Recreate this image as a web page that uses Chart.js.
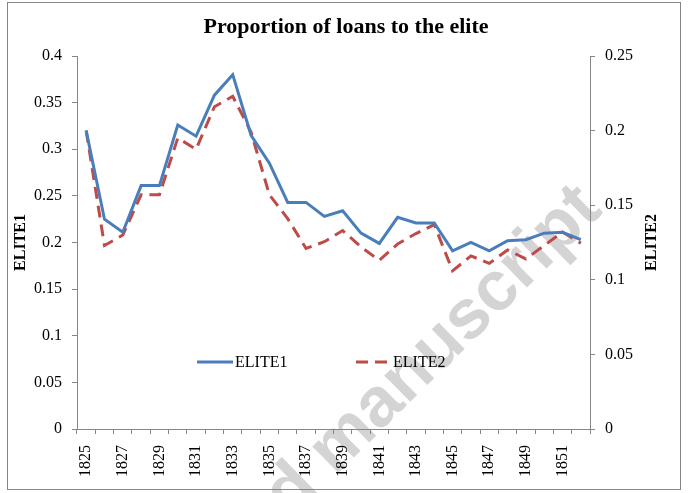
<!DOCTYPE html>
<html>
<head>
<meta charset="utf-8">
<script src="https://cdn.jsdelivr.net/npm/chart.js@4.4.1/dist/chart.umd.min.js"></script>
<style>
  html, body { margin: 0; padding: 0; background: #fff; }
  canvas { display: block; }
</style>
</head>
<body>
<canvas id="chart" width="688" height="493" style="width:688px;height:493px"></canvas>
<script>
// Data
const years = [1825, 1826, 1827, 1828, 1829, 1830, 1831, 1832, 1833, 1834,
               1835, 1836, 1837, 1838, 1839, 1840, 1841, 1842, 1843, 1844,
               1845, 1846, 1847, 1848, 1849, 1850, 1851, 1852];
const elite1 = [0.320, 0.225, 0.211, 0.261, 0.261, 0.326, 0.314, 0.358, 0.380, 0.315,
                0.285, 0.243, 0.243, 0.228, 0.234, 0.210, 0.199, 0.227, 0.221, 0.221,
                0.191, 0.200, 0.191, 0.202, 0.203, 0.210, 0.211, 0.203];
const elite2 = [0.200, 0.123, 0.130, 0.157, 0.157, 0.195, 0.1875, 0.216, 0.223, 0.199,
                0.157, 0.141, 0.121, 0.1255, 0.133, 0.122, 0.113, 0.124, 0.131, 0.137,
                0.106, 0.116, 0.111, 0.120, 0.114, 0.123, 0.132, 0.1245];
const leftTicks = [0, 0.05, 0.1, 0.15, 0.2, 0.25, 0.3, 0.35, 0.4];
const rightTicks = [0, 0.05, 0.1, 0.15, 0.2, 0.25];

const BLUE = '#4a7ebb';
const RED = '#be4b48';
const AXIS = '#868686';
const SERIF = '"Liberation Serif", "Times New Roman", serif';

// Draws frame, title, axis titles, legend and watermark
const decorations = {
    id: 'decorations',
    beforeDraw(chart) {
        const ctx = chart.ctx;
        ctx.save();
        ctx.fillStyle = '#fff';
        ctx.fillRect(0, 0, chart.width, chart.height);

        // watermark
        ctx.translate(604, 212);
        ctx.rotate(-Math.PI / 4.05);
        ctx.font = 'bold 70px "Liberation Sans", Arial, sans-serif';
        ctx.fillStyle = '#d4d4d4';
        ctx.textAlign = 'right';
        ctx.textBaseline = 'alphabetic';
        ctx.fillText('Accepted manuscript', 0, 0);
        ctx.restore();
    },
    afterDraw(chart) {
        const ctx = chart.ctx;
        const area = chart.chartArea;
        ctx.save();

        // outer frame
        ctx.strokeStyle = AXIS;
        ctx.lineWidth = 1;
        ctx.strokeRect(7.5, 2.5, 673, 487);

        // title
        ctx.fillStyle = '#000';
        ctx.font = 'bold 22px ' + SERIF;
        ctx.textAlign = 'center';
        ctx.textBaseline = 'middle';
        ctx.fillText('Proportion of loans to the elite', 346, 27);

        // axis titles
        const midY = (area.top + area.bottom) / 2;
        ctx.font = 'bold 16px ' + SERIF;
        [[21, 'ELITE1'], [652, 'ELITE2']].forEach(([x, txt]) => {
            ctx.save();
            ctx.translate(x, midY);
            ctx.rotate(-Math.PI / 2);
            ctx.fillText(txt, 0, 0);
            ctx.restore();
        });

        // legend
        const ly = 362;
        ctx.lineWidth = 3;
        ctx.strokeStyle = BLUE;
        ctx.beginPath();
        ctx.moveTo(197, ly);
        ctx.lineTo(233, ly);
        ctx.stroke();
        ctx.strokeStyle = RED;
        ctx.setLineDash([12, 7]);
        ctx.beginPath();
        ctx.moveTo(356, ly);
        ctx.lineTo(388, ly);
        ctx.stroke();
        ctx.setLineDash([]);
        ctx.font = '16px ' + SERIF;
        ctx.textAlign = 'left';
        ctx.fillStyle = '#000';
        ctx.fillText('ELITE1', 235, ly + 1);
        ctx.fillText('ELITE2', 393, ly + 1);
        ctx.restore();
    }
};

const tickFont = { family: SERIF, size: 16 };

new Chart(document.getElementById('chart'), {
    type: 'line',
    data: {
        labels: years,
        datasets: [{
            label: 'ELITE1',
            data: elite1,
            borderColor: BLUE,
            borderWidth: 3,
            pointRadius: 0,
            tension: 0,
            yAxisID: 'y'
        }, {
            label: 'ELITE2',
            data: elite2,
            borderColor: RED,
            borderWidth: 3,
            borderDash: [12, 7],
            pointRadius: 0,
            tension: 0,
            yAxisID: 'y2'
        }]
    },
    options: {
        responsive: false,
        animation: false,
        devicePixelRatio: 1,
        layout: { padding: { top: 56, left: 0, right: 0, bottom: 0 } },
        plugins: {
            legend: { display: false },
            title: { display: false },
            tooltip: { enabled: false }
        },
        scales: {
            x: {
                type: 'category',
                offset: true,
                grid: { offset: true, drawOnChartArea: false, tickLength: 5, color: AXIS },
                border: { color: AXIS },
                ticks: {
                    autoSkip: false,
                    maxRotation: 90,
                    minRotation: 90,
                    padding: 11,
                    color: '#000',
                    font: tickFont,
                    callback: (val, idx) => idx % 2 === 0 ? String(years[idx]) : ''
                },
                afterFit: (s) => { s.height = 64; }
            },
            y: {
                position: 'left',
                min: leftTicks[0],
                max: leftTicks[leftTicks.length - 1],
                grid: { drawOnChartArea: false, tickLength: 5, color: AXIS },
                border: { color: AXIS },
                ticks: {
                    stepSize: 0.05,
                    padding: 10,
                    color: '#000',
                    font: tickFont,
                    callback: (v) => String(+v.toFixed(2))
                },
                afterFit: (s) => { s.width = 77; }
            },
            y2: {
                position: 'right',
                min: rightTicks[0],
                max: rightTicks[rightTicks.length - 1],
                grid: { drawOnChartArea: false, tickLength: 5, color: AXIS },
                border: { color: AXIS },
                ticks: {
                    stepSize: 0.05,
                    padding: 10,
                    color: '#000',
                    font: tickFont,
                    callback: (v) => String(+v.toFixed(2))
                },
                afterFit: (s) => { s.width = 98; }
            }
        }
    },
    plugins: [decorations]
});
</script>
</body>
</html>
